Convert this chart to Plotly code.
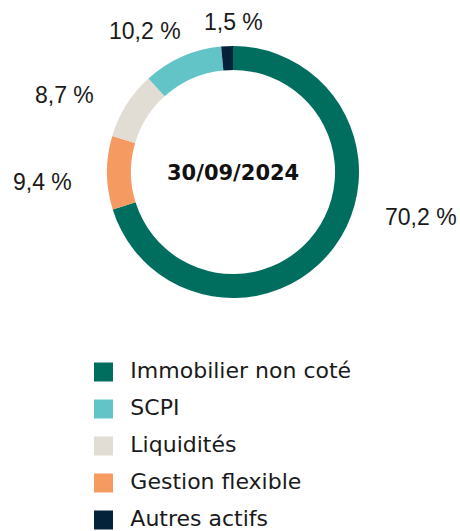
import plotly.graph_objects as go

# Data
pie_labels = ["Immobilier non coté", "Gestion flexible", "Liquidités", "SCPI", "Autres actifs"]
pie_values = [70.2, 9.4, 8.7, 10.2, 1.5]
legend_labels = ["Immobilier non coté", "SCPI", "Liquidités", "Gestion flexible", "Autres actifs"]
center_text = "30/09/2024"

colors = {
    "Immobilier non coté": "#006E5F",
    "SCPI": "#63C4C8",
    "Liquidités": "#E1DDD4",
    "Gestion flexible": "#F59B62",
    "Autres actifs": "#04233A",
}

W, H = 460, 531
cx, cy, R = 233, 172, 126

# label anchor positions (pixels from top-left), layout only
label_pos = {
    "Immobilier non coté": (421, 217),
    "Gestion flexible": (42, 182),
    "Liquidités": (64, 95),
    "SCPI": (145, 31),
    "Autres actifs": (234, 22),
}

def fmt(v):
    return f"{v:.1f} %".replace(".", ",")

fig = go.Figure()
fig.add_trace(go.Pie(
    labels=pie_labels,
    values=pie_values,
    sort=False,
    direction="clockwise",
    rotation=0,
    hole=0.81,
    marker=dict(colors=[colors[l] for l in pie_labels], line=dict(color="white", width=0)),
    textinfo="none",
    showlegend=False,
    domain=dict(x=[(cx - R) / W, (cx + R) / W], y=[(H - cy - R) / H, (H - cy + R) / H]),
))

# Legend drawn as a scatter of category squares
fig.add_trace(go.Scatter(
    x=[0] * len(legend_labels),
    y=legend_labels,
    mode="markers+text",
    marker=dict(symbol="square", size=19, color=[colors[l] for l in legend_labels]),
    text=["  " + l for l in legend_labels],
    textposition="middle right",
    textfont=dict(family="DejaVu Sans", size=22, color="#1a1a1a"),
    showlegend=False,
    hoverinfo="skip",
    cliponaxis=False,
))

annotations = []
for l, v in zip(pie_labels, pie_values):
    px, py = label_pos[l]
    annotations.append(dict(
        x=px / W, y=1 - py / H, xref="paper", yref="paper",
        text=fmt(v), showarrow=False,
        font=dict(family="Liberation Sans, Arial", size=23, color="#1a1a1a"),
        xanchor="center", yanchor="middle",
    ))
annotations.append(dict(
    x=cx / W, y=1 - (cy + 1) / H, xref="paper", yref="paper",
    text=f"<b>{center_text}</b>", showarrow=False,
    font=dict(family="DejaVu Sans", size=21, color="#111111"),
    xanchor="center", yanchor="middle",
))

row0, step = 372, 37
fig.update_layout(
    width=W, height=H,
    margin=dict(l=0, r=0, t=0, b=0),
    paper_bgcolor="white", plot_bgcolor="white",
    xaxis=dict(visible=False, range=[-103.5, W - 103.5], domain=[0, 1], fixedrange=True),
    yaxis=dict(visible=False, type="category", categoryorder="array", categoryarray=legend_labels,
               range=[(H - row0) / step, (H - row0 - H) / step], domain=[0, 1], fixedrange=True),
    annotations=annotations,
    showlegend=False,
)

fig.write_html("out.html", config={"displayModeBar": False},
               post_script="document.body.style.margin='0';document.body.style.overflow='hidden';")
